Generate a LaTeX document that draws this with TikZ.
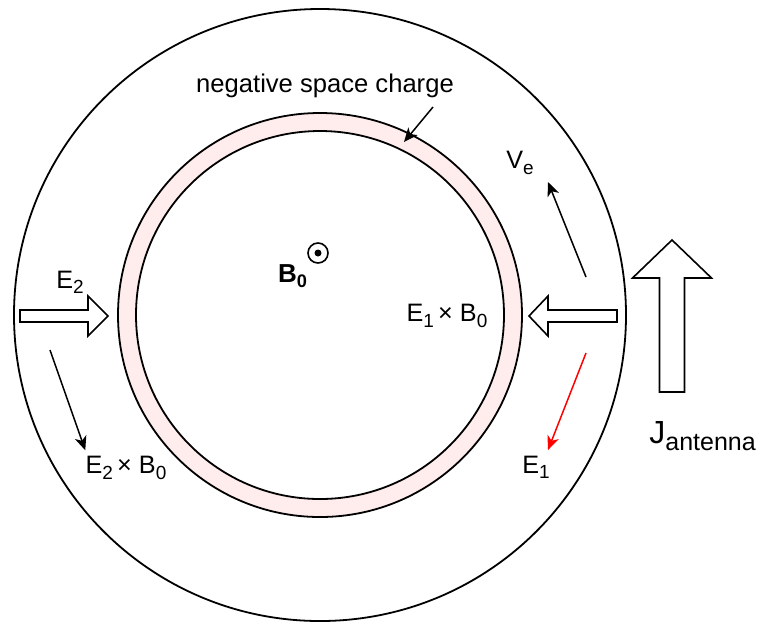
\documentclass[tikz,border=0pt]{standalone}
\usepackage{fontspec}
\setmainfont{Liberation Sans}
\usetikzlibrary{arrows.meta}
\definecolor{ringfill}{RGB}{255,236,236}
\newcommand{\lowsub}[1]{\raisebox{-2.6pt}{\fontsize{9.5}{10}\selectfont #1}}
\tikzset{
  lbl/.style={font=\fontsize{12.6}{14}\selectfont, inner sep=0pt},
  thinarr/.style={line width=0.75pt, -{Stealth[length=7pt,width=6pt,inset=2pt]}},
  hollow/.style={draw, fill=white, line width=0.8pt},
}
\begin{document}
\begin{tikzpicture}[x=0.5pt, y=0.5pt]
  % radii in pixels of the drawing (1 px = 0.5pt)
  \def\rout{306}
  \def\rringo{202}
  \def\rringi{184}
  \useasboundingbox (-320,-308) rectangle (443,315);

  % ---- outer wall and space charge ring ----
  \draw[line width=0.9pt] (0,0) circle (\rout);
  \draw[line width=0.9pt, fill=ringfill, even odd rule]
    (0,0) circle (\rringo) (0,0) circle (\rringi);

  % ---- B0 out of the page ----
  \node[draw, circle, line width=0.8pt, minimum size=10pt, inner sep=0pt] (bsym) at (-2,62) {};
  \fill (bsym.center) circle (3.5);
  \node[lbl, font=\bfseries\fontsize{13}{15}\selectfont] (bnull) at (-27,39) {B\textsubscript{0}};

  % ---- negative space charge ----
  \node[lbl, font=\fontsize{12.8}{15}\selectfont] (nsc) at (5,229) {negative space charge};
  \coordinate (nsctail) at (113,208);
  \coordinate (nsctip) at (84,173);
  \draw[thinarr] (nsctail) -- (nsctip);

  % ---- left side: E2 and E2 x B0 ----
  \node[lbl] (etwo) at (-250,33) {E\lowsub{2}};
  \draw[hollow] (-300,5) -- (-232,5) -- (-232,19) -- (-212,-1)
    -- (-232,-21) -- (-232,-7) -- (-300,-7) -- cycle;
  \node[lbl] (etwob) at (-194,-153) {E\lowsub{2}\,× B\lowsub{0}};
  \coordinate (etwobtail) at (-270,-35);
  \draw[thinarr] (etwobtail) -- ([yshift=3]etwob.north west);

  % ---- right side: E1, E1 x B0, Ve ----
  \node[lbl] (eoneb) at (127,-1) {E\lowsub{1}\,× B\lowsub{0}};
  \draw[hollow] (297,5) -- (228,5) -- (228,19) -- (209,-1)
    -- (228,-21) -- (228,-7) -- (297,-7) -- cycle;
  \node[lbl] (ve) at (200,152) {V\lowsub{e}};
  \coordinate (vetail) at (266,38);
  \coordinate (vetip) at (228,133);
  \draw[thinarr] (vetail) -- (vetip);
  \node[lbl] (eone) at (216,-152) {E\lowsub{1}};
  \coordinate (eonetail) at (266,-38);
  \coordinate (eonetip) at (228,-135);
  \draw[thinarr, red] (eonetail) -- (eonetip);

  % ---- antenna current ----
  \draw[hollow] (339.5,-77) -- (339.5,37) -- (312.5,37) -- (352,75)
    -- (391.5,37) -- (364.5,37) -- (364.5,-77) -- cycle;
  \node[inner sep=0pt, anchor=base west] (jant) at (329,-128)
    {\fontsize{16}{18}\selectfont J\raisebox{-3.5pt}{\fontsize{12.5}{14}\selectfont antenna}};
\end{tikzpicture}
\end{document}
